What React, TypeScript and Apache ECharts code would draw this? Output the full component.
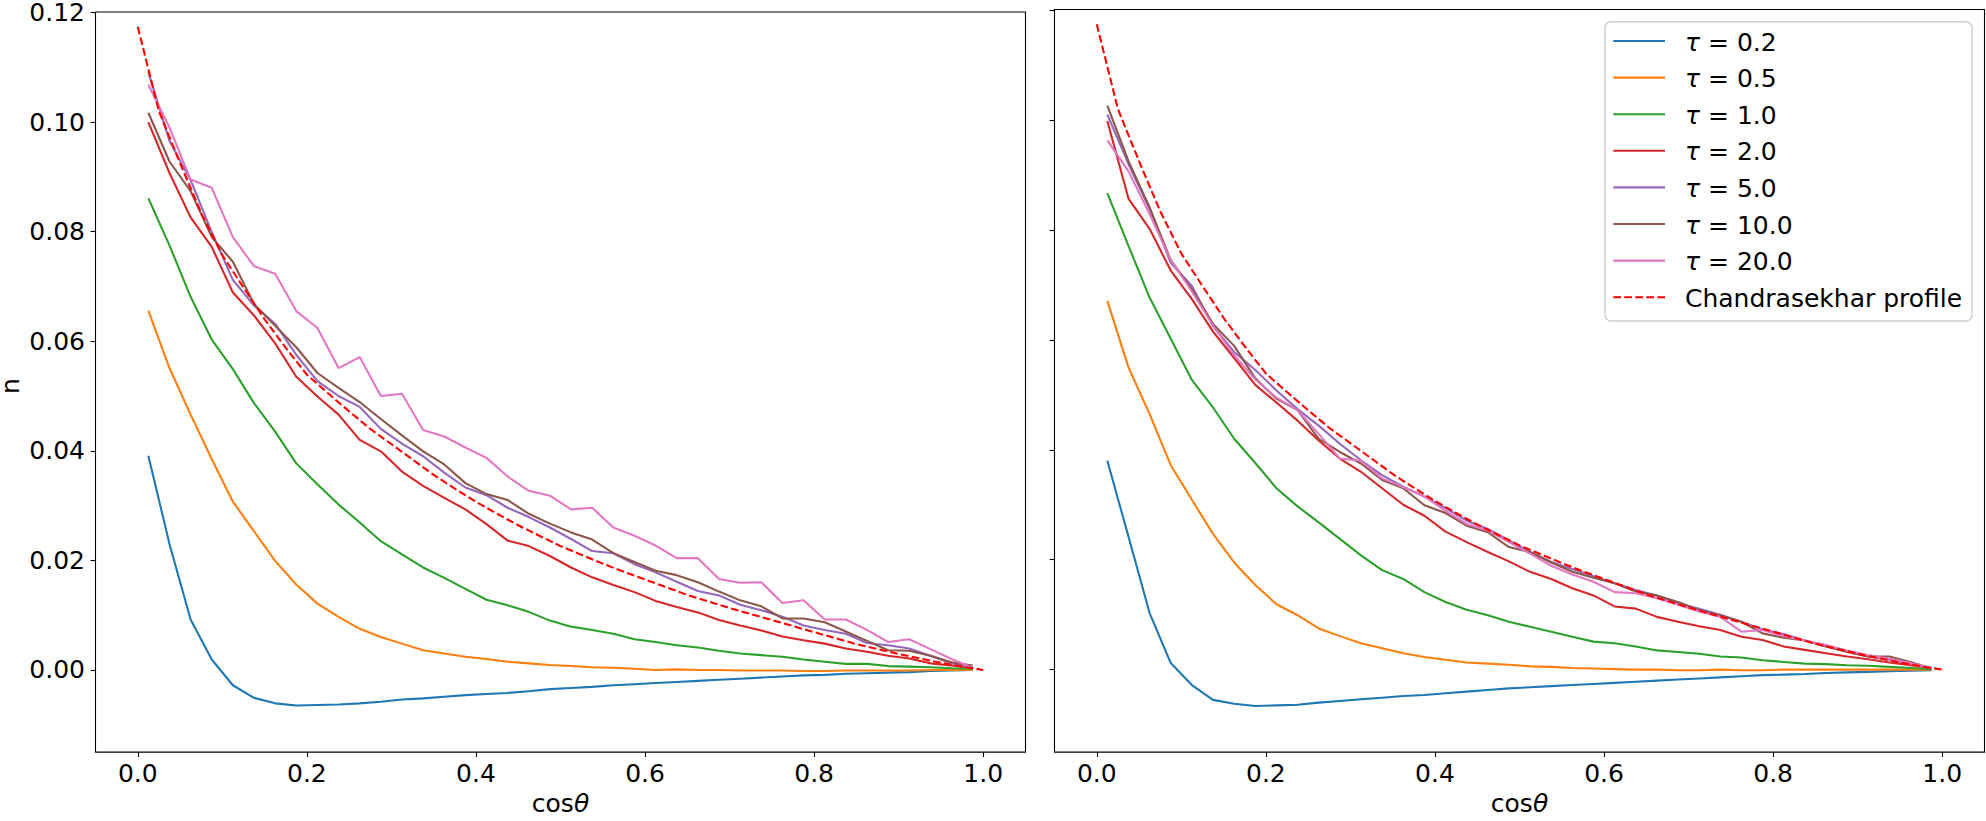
import React, { useEffect, useRef } from "react";
import * as echarts from "echarts";

// cos(theta) bin centres used by the simulated curves
const MU = [
  0.0125, 0.0375, 0.0625, 0.0875, 0.1125, 0.1375, 0.1625, 0.1875, 0.2125, 0.2375,
  0.2625, 0.2875, 0.3125, 0.3375, 0.3625, 0.3875, 0.4125, 0.4375, 0.4625, 0.4875,
  0.5125, 0.5375, 0.5625, 0.5875, 0.6125, 0.6375, 0.6625, 0.6875, 0.7125, 0.7375,
  0.7625, 0.7875, 0.8125, 0.8375, 0.8625, 0.8875, 0.9125, 0.9375, 0.9625, 0.9875,
];

// cos(theta) samples of the Chandrasekhar profile
const MU_CH = [
  0.0, 0.025, 0.05, 0.075, 0.1, 0.125, 0.15, 0.175, 0.2, 0.225, 0.25, 0.275, 0.3, 0.325,
  0.35, 0.375, 0.4, 0.425, 0.45, 0.475, 0.5, 0.525, 0.55, 0.575, 0.6, 0.625, 0.65, 0.675,
  0.7, 0.725, 0.75, 0.775, 0.8, 0.825, 0.85, 0.875, 0.9, 0.925, 0.95, 0.975, 1.0,
];

const CHANDRA = [
  0.1174, 0.102, 0.0925, 0.0834, 0.0757, 0.0698, 0.064, 0.0588, 0.0539, 0.0505, 0.0472,
  0.044, 0.0412, 0.0384, 0.0356, 0.0331, 0.0307, 0.0285, 0.0264, 0.0245, 0.0226, 0.021,
  0.0194, 0.0179, 0.0165, 0.0151, 0.0137, 0.0125, 0.0113, 0.0102, 0.0091, 0.008, 0.0069,
  0.0058, 0.0047, 0.0038, 0.0029, 0.0021, 0.0013, 0.0006, 0.0,
];

const TAU_LABELS = ["τ = 0.2", "τ = 0.5", "τ = 1.0", "τ = 2.0", "τ = 5.0", "τ = 10.0", "τ = 20.0"];
const CH_LABEL = "Chandrasekhar profile";
const COLORS = ["#1f77b4", "#ff7f0e", "#2ca02c", "#d62728", "#9467bd", "#8c564b", "#e377c2"];
const CH_COLOR = "#ff0000";

const Y_TICKS = [0, 0.02, 0.04, 0.06, 0.08, 0.1, 0.12];
const X_TICKS = [0, 0.2, 0.4, 0.6, 0.8, 1.0];

// ---------- left panel ----------
const L_T02 = [0.0391, 0.023, 0.0092, 0.0019, -0.0028, -0.0051, -0.0061, -0.0065, -0.0064, -0.0063, -0.0061, -0.0058, -0.0054, -0.0052, -0.0049, -0.0046, -0.0044, -0.0042, -0.0039, -0.0035, -0.0033, -0.0031, -0.0028, -0.0026, -0.0024, -0.0022, -0.002, -0.0018, -0.0016, -0.0014, -0.0012, -0.001, -0.0009, -0.0007, -0.0006, -0.0005, -0.0004, -0.0002, -0.0001, 0.0];
const L_T05 = [0.0656, 0.0551, 0.0466, 0.0385, 0.0307, 0.0253, 0.0199, 0.0156, 0.0121, 0.0097, 0.0075, 0.006, 0.0048, 0.0036, 0.003, 0.0024, 0.002, 0.0015, 0.0012, 0.0009, 0.0007, 0.0005, 0.0004, 0.0002, 0.0, 0.0001, 0.0, 0.0, -0.0001, -0.0001, -0.0001, -0.0002, -0.0002, -0.0001, -0.0001, -0.0001, -0.0001, 0.0, 0.0, 0.0];
const L_T1 = [0.0861, 0.0775, 0.0681, 0.0603, 0.0549, 0.0487, 0.0435, 0.0377, 0.0339, 0.0302, 0.0269, 0.0235, 0.0211, 0.0187, 0.0168, 0.0148, 0.0128, 0.0118, 0.0106, 0.009, 0.0079, 0.0073, 0.0066, 0.0056, 0.0051, 0.0045, 0.0041, 0.0035, 0.003, 0.0027, 0.0024, 0.0019, 0.0015, 0.0011, 0.0011, 0.0007, 0.0006, 0.0005, 0.0003, 0.0002];
const L_T2 = [0.1, 0.0907, 0.0826, 0.0772, 0.0689, 0.0647, 0.0596, 0.0535, 0.0499, 0.0466, 0.042, 0.0399, 0.0362, 0.0336, 0.0314, 0.0293, 0.0266, 0.0236, 0.0226, 0.0208, 0.0187, 0.0169, 0.0155, 0.0142, 0.0126, 0.0115, 0.0105, 0.0091, 0.0081, 0.0072, 0.0061, 0.0054, 0.0048, 0.0039, 0.0033, 0.0026, 0.0021, 0.0012, 0.0008, 0.0004];
const L_T5 = [0.1091, 0.0966, 0.0894, 0.0799, 0.0712, 0.0665, 0.0632, 0.0575, 0.0527, 0.05, 0.048, 0.044, 0.0413, 0.039, 0.036, 0.0333, 0.0319, 0.0296, 0.0279, 0.026, 0.0239, 0.0217, 0.0213, 0.0193, 0.0178, 0.0161, 0.0144, 0.0136, 0.0119, 0.0109, 0.0097, 0.0081, 0.0073, 0.0066, 0.0049, 0.0045, 0.0039, 0.0026, 0.0012, 0.0004];
const L_T10 = [0.1017, 0.0928, 0.0874, 0.079, 0.0745, 0.0668, 0.0628, 0.0589, 0.0542, 0.0515, 0.0489, 0.0458, 0.0428, 0.0399, 0.0375, 0.0341, 0.0321, 0.031, 0.0285, 0.0267, 0.0251, 0.0238, 0.0213, 0.0197, 0.0181, 0.0173, 0.016, 0.0143, 0.0127, 0.0116, 0.0094, 0.0094, 0.0087, 0.007, 0.0053, 0.0036, 0.0035, 0.0026, 0.0014, 0.0008];
const L_T20 = [0.1068, 0.099, 0.0895, 0.088, 0.079, 0.0737, 0.0723, 0.0655, 0.0624, 0.0551, 0.0571, 0.05, 0.0504, 0.0438, 0.0426, 0.0406, 0.0387, 0.0353, 0.0327, 0.0318, 0.0293, 0.0296, 0.026, 0.0245, 0.0227, 0.0204, 0.0204, 0.0166, 0.0159, 0.016, 0.0122, 0.0127, 0.0092, 0.0092, 0.0073, 0.0051, 0.0056, 0.0038, 0.002, 0.0004];

// ---------- right panel ----------
const R_T02 = [0.038, 0.0242, 0.0103, 0.0012, -0.0028, -0.0055, -0.0062, -0.0066, -0.0065, -0.0064, -0.006, -0.0057, -0.0054, -0.0051, -0.0048, -0.0046, -0.0043, -0.004, -0.0037, -0.0034, -0.0032, -0.003, -0.0028, -0.0026, -0.0024, -0.0022, -0.002, -0.0018, -0.0016, -0.0014, -0.0012, -0.001, -0.0009, -0.0008, -0.0006, -0.0005, -0.0004, -0.0003, -0.0002, -0.0001];
const R_T05 = [0.0671, 0.055, 0.0465, 0.0372, 0.0309, 0.0247, 0.0195, 0.0154, 0.0119, 0.0099, 0.0075, 0.0061, 0.0048, 0.0039, 0.003, 0.0023, 0.0018, 0.0013, 0.0011, 0.0009, 0.0006, 0.0005, 0.0003, 0.0002, 0.0001, 0.0, 0.0, -0.0001, -0.0001, 0.0, -0.0001, -0.0001, 0.0, 0.0, 0.0, 0.0, 0.0, 0.0, 0.0, 0.0];
const R_T1 = [0.0867, 0.0771, 0.0677, 0.0602, 0.0527, 0.0477, 0.042, 0.0376, 0.033, 0.0297, 0.0268, 0.0238, 0.0208, 0.0181, 0.0165, 0.0141, 0.0123, 0.0109, 0.0099, 0.0087, 0.0078, 0.0069, 0.006, 0.0051, 0.0048, 0.0042, 0.0035, 0.0032, 0.0029, 0.0024, 0.0022, 0.0017, 0.0014, 0.0011, 0.001, 0.0008, 0.0007, 0.0005, 0.0003, 0.0001];
const R_T2 = [0.0998, 0.0857, 0.0802, 0.0726, 0.0674, 0.0615, 0.0567, 0.0518, 0.0486, 0.0453, 0.0417, 0.0384, 0.036, 0.033, 0.03, 0.028, 0.0251, 0.0232, 0.0214, 0.0197, 0.0178, 0.0165, 0.0148, 0.0135, 0.0115, 0.0111, 0.0096, 0.0087, 0.0079, 0.0072, 0.006, 0.0054, 0.0042, 0.0036, 0.003, 0.0024, 0.0019, 0.0013, 0.0008, 0.0003];
const R_T5 = [0.101, 0.092, 0.0838, 0.074, 0.0698, 0.0625, 0.0578, 0.0545, 0.0508, 0.0474, 0.0444, 0.0411, 0.0381, 0.0354, 0.0333, 0.0315, 0.0294, 0.0271, 0.0256, 0.0235, 0.0214, 0.0196, 0.0183, 0.017, 0.0157, 0.0145, 0.0135, 0.0121, 0.0111, 0.01, 0.0087, 0.0073, 0.0065, 0.0053, 0.0044, 0.0033, 0.0024, 0.0018, 0.0011, 0.0002];
const R_T10 = [0.1026, 0.0925, 0.0841, 0.0745, 0.0692, 0.0629, 0.0589, 0.053, 0.0493, 0.0472, 0.042, 0.0396, 0.0375, 0.0345, 0.033, 0.0299, 0.0285, 0.0262, 0.025, 0.0223, 0.0214, 0.0195, 0.0178, 0.0167, 0.0157, 0.0142, 0.0135, 0.0123, 0.0108, 0.0099, 0.0087, 0.0066, 0.0058, 0.0053, 0.0042, 0.0032, 0.0024, 0.0024, 0.0014, 0.0002];
const R_T20 = [0.0963, 0.0907, 0.0829, 0.0745, 0.0688, 0.0626, 0.0572, 0.0528, 0.0495, 0.0472, 0.0429, 0.0384, 0.038, 0.0348, 0.0332, 0.0315, 0.0289, 0.0265, 0.0253, 0.0232, 0.0211, 0.0189, 0.0173, 0.016, 0.0141, 0.0139, 0.013, 0.0118, 0.0106, 0.0096, 0.0069, 0.0072, 0.0061, 0.0053, 0.0045, 0.0035, 0.0026, 0.002, 0.0012, 0.0003];

const LEFT = [L_T02, L_T05, L_T1, L_T2, L_T5, L_T10, L_T20];
const RIGHT = [R_T02, R_T05, R_T1, R_T2, R_T5, R_T10, R_T20];

const FONT = "DejaVu Sans";
const FS = 25;
const LW = 2.08;
const DASH = [7.7, 3.3];

function makeSeries(panel: number, sets: number[][]) {
  const out: any[] = sets.map((vals, i) => ({
    type: "line",
    name: TAU_LABELS[i],
    xAxisIndex: panel,
    yAxisIndex: panel,
    data: MU.map((m, k) => [m, vals[k]]),
    symbol: "none",
    showSymbol: false,
    clip: false,
    lineStyle: { color: COLORS[i], width: LW },
    itemStyle: { color: COLORS[i] },
    z: 2 + i,
  }));
  out.push({
    type: "line",
    name: CH_LABEL,
    xAxisIndex: panel,
    yAxisIndex: panel,
    data: MU_CH.map((m, k) => [m, CHANDRA[k]]),
    symbol: "none",
    showSymbol: false,
    clip: false,
    lineStyle: { color: CH_COLOR, width: LW, type: DASH },
    itemStyle: { color: CH_COLOR },
    z: 10,
  });
  return out;
}

const italicRich = { i: { fontStyle: "italic", fontSize: FS, fontFamily: FONT, color: "#000", lineHeight: 20 } };

function xAxis(gridIndex: number) {
  return {
    type: "value",
    gridIndex,
    min: -0.05,
    max: 1.05,
    name: "cos{i|θ}",
    nameLocation: "middle",
    nameGap: 40,
    nameTextStyle: { fontSize: FS, fontFamily: FONT, color: "#000", lineHeight: 20, rich: italicRich },
    axisLine: { show: false, onZero: false },
    splitLine: { show: false },
    axisTick: { show: true, length: 4.9, lineStyle: { color: "#000", width: 1.1 }, customValues: X_TICKS },
    axisLabel: {
      show: true,
      margin: 9,
      fontSize: FS,
      fontFamily: FONT,
      color: "#000",
      customValues: X_TICKS,
      formatter: (v: number) => v.toFixed(1),
    },
  };
}

function yAxis(gridIndex: number, labels: boolean) {
  return {
    type: "value",
    gridIndex,
    min: -0.015,
    max: 0.1201,
    axisLine: { show: false, onZero: false },
    splitLine: { show: false },
    axisTick: { show: true, length: 4.9, lineStyle: { color: "#000", width: 1.1 }, customValues: Y_TICKS },
    axisLabel: {
      show: labels,
      margin: 10.5,
      fontSize: FS,
      fontFamily: FONT,
      color: "#000",
      lineHeight: 18,
      customValues: Y_TICKS,
      formatter: (v: number) => v.toFixed(2),
    },
  };
}

// legend layout (pixel placement of the legend box, not data)
const LEG_BOX = { x: 1605, y: 21.7, w: 367, h: 299.3 };
const LEG_ROW_Y = [41, 77.6, 114.2, 150.8, 187.4, 224, 260.6, 297.2];
const LEG_LINE_X = [1613.3, 1665];
const LEG_TEXT_X = 1685;

function legendGraphic() {
  const names = [...TAU_LABELS, CH_LABEL];
  const colors = [...COLORS, CH_COLOR];
  const els: any[] = [
    {
      type: "rect",
      shape: { x: LEG_BOX.x, y: LEG_BOX.y, width: LEG_BOX.w, height: LEG_BOX.h, r: 6 },
      style: { fill: "rgba(255,255,255,0.8)", stroke: "#cccccc", lineWidth: 1.4 },
      z: 100,
    },
  ];
  names.forEach((n, i) => {
    const y = LEG_ROW_Y[i];
    const dashed = i === names.length - 1;
    els.push({
      type: "line",
      shape: { x1: LEG_LINE_X[0], y1: y, x2: LEG_LINE_X[1], y2: y },
      style: { stroke: colors[i], lineWidth: LW, lineDash: dashed ? DASH : null },
      z: 101,
    });
    els.push({
      type: "text",
      x: LEG_TEXT_X,
      y: y + 1,
      style: {
        text: n.startsWith("τ") ? "{i|τ}" + n.slice(1) : n,
        fontSize: FS,
        fontFamily: FONT,
        fill: "#000",
        align: "left",
        verticalAlign: "middle",
        rich: { i: { fontStyle: "italic", fontSize: FS, fontFamily: FONT, fill: "#000", color: "#000" } },
      },
      z: 101,
    });
  });
  // y-axis label, rotated to read bottom-to-top
  els.push({
    type: "text",
    x: 10.5,
    y: 386,
    rotation: Math.PI / 2,
    style: {
      text: "n",
      fontSize: FS,
      fontFamily: FONT,
      fill: "#000",
      align: "center",
      verticalAlign: "middle",
      lineHeight: 17,
    },
    z: 101,
  });
  return els;
}

export default function App() {
  const ref = useRef<HTMLDivElement>(null);
  useEffect(() => {
    if (!ref.current) return;
    const chart = echarts.init(ref.current, undefined, { renderer: "svg" });
    const gridBase = { top: 9.5, height: 753.5, width: 930, show: true, borderColor: "#000", borderWidth: 1.1, backgroundColor: "transparent" };
    chart.setOption({
      animation: false,
      backgroundColor: "#ffffff",
      textStyle: { fontFamily: FONT },
      grid: [
        { ...gridBase, left: 95.5 },
        { ...gridBase, left: 1054.5 },
      ],
      xAxis: [xAxis(0), xAxis(1)],
      yAxis: [yAxis(0, true), yAxis(1, false)],
      series: [...makeSeries(0, LEFT), ...makeSeries(1, RIGHT)],
      graphic: legendGraphic(),
    });
    return () => chart.dispose();
  }, []);
  return <div ref={ref} style={{ position: "fixed", left: 0, top: 0, width: 1986, height: 821 }} />;
}
